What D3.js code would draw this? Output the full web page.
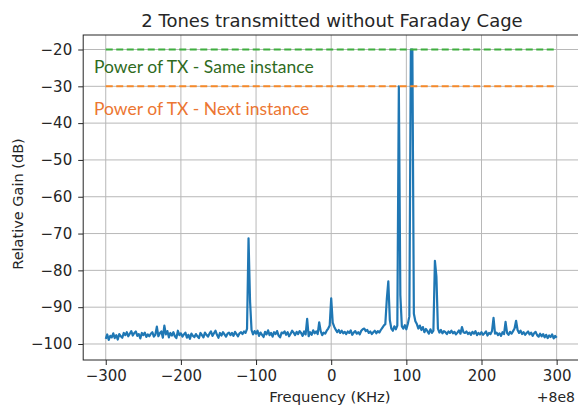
<!DOCTYPE html>
<html>
<head>
<meta charset="utf-8">
<script src="https://cdn.jsdelivr.net/npm/d3@7"></script>
<style>
  html, body { margin: 0; padding: 0; background: #fff; }
  svg { display: block; }
  text { font-family: "DejaVu Sans", sans-serif; fill: #262626; }
</style>
</head>
<body>
<svg id="chart" width="578" height="407"></svg>
<script>
// Spectrum sampled every 2 kHz around the 800 MHz carrier (offset in kHz)
const freqStart = -300;
const freqStep = 2;
const gainDb = [
  -98.6, -97.4, -98.9, -97.8, -98.2, -97.1, -98.4, -97.6, -98.8, -97.3,
  -97.9, -98.3, -97.0, -97.6, -96.8, -97.9, -97.2, -96.5, -97.7, -97.0,
  -96.6, -97.8, -97.3, -98.5, -97.0, -97.6, -96.9, -98.1, -97.4, -97.9,
  -97.2, -96.8, -98.0, -97.5, -95.3, -97.9, -97.1, -96.6, -98.3, -95.0,
  -97.4, -96.5, -98.2, -97.0, -97.7, -96.8, -97.9, -98.4, -96.4, -97.6,
  -97.1, -98.0, -97.4, -96.9, -98.3, -97.5, -98.6, -97.2, -97.8, -98.1,
  -97.3, -97.9, -98.4, -97.0, -97.6, -98.2, -96.9, -97.5, -98.0, -97.2,
  -96.6, -97.8, -97.1, -96.4, -97.5, -98.3, -97.0, -97.7, -96.8, -97.4,
  -98.0, -97.2, -96.9, -97.6, -97.0, -97.8, -96.7, -97.3, -97.9, -97.1,
  -96.8, -97.3, -96.6, -97.0, -95.9, -71.3, -88.3, -96.2, -97.4, -96.5,
  -97.2, -96.4, -97.8, -96.9, -97.5, -98.1, -96.7, -97.4, -96.3, -97.6,
  -97.0, -98.0, -96.8, -97.3, -96.5, -97.7, -98.2, -96.9, -97.1, -96.6,
  -97.5, -96.8, -97.9, -97.2, -96.4, -96.9, -97.6, -96.7, -97.3, -96.5,
  -97.0, -97.8, -96.6, -97.4, -93.2, -97.9, -96.8, -97.5, -96.3, -97.1,
  -96.6, -97.3, -94.1, -96.5, -97.6, -96.9, -97.2, -96.4, -95.8, -95.0,
  -87.6, -94.2, -95.3, -96.1, -96.8, -96.2, -97.0, -96.4, -97.1, -96.7,
  -97.3, -96.6, -97.0, -96.3, -97.5, -96.9, -96.5, -97.2, -96.8, -97.4,
  -96.4, -96.0, -95.8, -96.5, -96.2, -97.0, -96.6, -97.3, -96.8, -96.4,
  -97.1, -96.5, -96.9, -96.2, -95.6, -95.0, -94.6, -87.8, -83.0, -93.5,
  -95.8, -96.4, -95.2, -96.0, -95.0, -30.0, -86.7, -95.2, -95.8, -94.9,
  -96.0, -94.5, -92.5, -20.0, -20.0, -91.8, -93.8, -94.6, -95.8, -95.0,
  -96.2, -95.4, -96.8, -95.9, -96.5, -97.2, -96.0, -97.0, -96.4, -77.4,
  -81.7, -95.8, -96.9, -96.2, -97.1, -96.5, -96.8, -97.3, -96.6, -97.0,
  -96.4, -97.1, -96.7, -97.4, -96.9, -96.3, -97.2, -95.4, -96.8, -97.0,
  -96.6, -97.3, -96.9, -97.5, -96.7, -97.2, -96.5, -97.6, -97.0, -97.4,
  -96.8, -97.5, -97.1, -96.6, -97.7, -97.0, -97.3, -96.5, -92.9, -97.2,
  -96.9, -97.6, -97.1, -97.8, -96.8, -97.3, -94.0, -97.0, -97.5, -96.7,
  -97.2, -96.5, -95.8, -93.7, -96.2, -97.0, -96.4, -97.3, -96.8, -97.5,
  -97.0, -96.6, -97.4, -96.9, -97.8, -97.1, -96.7, -97.6, -98.0, -97.2,
  -97.9, -97.3, -98.2, -97.5, -98.4, -97.7, -98.1, -97.4, -98.5, -97.8,
  -98.3
];

// Reference power levels (dB) drawn as dashed lines across the band
const refLevels = [-20, -30];
const refLabels = ["Power of TX - Same instance", "Power of TX - Next instance"];
const refSpan = [-300, 300];

const xTicks = [-300, -200, -100, 0, 100, 200, 300];
const yTicks = [-100, -90, -80, -70, -60, -50, -40, -30, -20];

const titleText = "2 Tones transmitted without Faraday Cage";
const xLabel = "Frequency (KHz)";
const yLabel = "Relative Gain (dB)";
const offsetText = "+8e8";

const data = gainDb.map((g, i) => ({ f: freqStart + i * freqStep, g }));

const svg = d3.select("#chart");
const plot = { left: 83.2, right: 579.2, top: 35, bottom: 360 };

const x = d3.scaleLinear().domain([-330, 330]).range([plot.left, plot.right]);
const y = d3.scaleLinear().domain([-104.35, -16.06]).range([plot.bottom, plot.top]);

// grid
const grid = svg.append("g").attr("stroke", "#b8b8b8").attr("stroke-width", 1);
grid.selectAll("line.gx").data(xTicks).join("line")
  .attr("x1", d => x(d)).attr("x2", d => x(d))
  .attr("y1", plot.top).attr("y2", plot.bottom);
grid.selectAll("line.gy").data(yTicks).join("line")
  .attr("x1", plot.left).attr("x2", plot.right)
  .attr("y1", d => y(d)).attr("y2", d => y(d));

// spectrum trace
const line = d3.line().x(d => x(d.f)).y(d => y(d.g));
svg.append("path").datum(data)
  .attr("fill", "none")
  .attr("stroke", "#1f77b4")
  .attr("stroke-width", 2.2)
  .attr("stroke-linejoin", "round")
  .attr("d", line);

// dashed reference lines with their captions
const refColors = ["#3fae3f", "#f5892a"];
const textColors = ["#2f6b1e", "#ec7632"];
const captionOffset = [23, 29];
refLevels.forEach((lv, i) => {
  svg.append("line")
    .attr("x1", x(refSpan[0])).attr("x2", x(refSpan[1]))
    .attr("y1", y(lv)).attr("y2", y(lv))
    .attr("stroke", refColors[i])
    .attr("stroke-width", 2)
    .attr("stroke-dasharray", "7,3.5");
});
refLabels.forEach((t, i) => {
  svg.append("text")
    .attr("x", 94)
    .attr("y", y(refLevels[i]) + captionOffset[i])
    .style("font-family", "Lato, 'Open Sans', sans-serif")
    .style("font-size", "17.5px")
    .style("fill", textColors[i])
    .text(t);
});

// axes
const minus = d => d3.format("d")(d).replace("-", "\u2212");
const xAxis = d3.axisBottom(x).tickValues(xTicks).tickSize(5).tickPadding(5).tickFormat(minus);
const yAxis = d3.axisLeft(y).tickValues(yTicks).tickSize(5).tickPadding(6).tickFormat(minus);

const gx = svg.append("g").attr("transform", `translate(0,${plot.bottom})`).call(xAxis);
const gy = svg.append("g").attr("transform", `translate(${plot.left},0)`).call(yAxis);
[gx, gy].forEach(g => {
  g.select(".domain").remove();
  g.selectAll(".tick line").attr("stroke", "#262626");
  g.selectAll(".tick text").style("font-size", "15px").style("font-family", "DejaVu Sans").attr("fill", "#262626");
});

// frame
svg.append("rect")
  .attr("x", plot.left).attr("y", plot.top)
  .attr("width", plot.right - plot.left).attr("height", plot.bottom - plot.top)
  .attr("fill", "none").attr("stroke", "#262626").attr("stroke-width", 1);

// titles and labels
svg.append("text")
  .attr("x", 332).attr("y", 27)
  .attr("text-anchor", "middle").style("font-size", "18px")
  .text(titleText);
svg.append("text")
  .attr("x", 330).attr("y", 402)
  .attr("text-anchor", "middle").style("font-size", "14.8px")
  .text(xLabel);
svg.append("text")
  .attr("transform", `translate(23,204) rotate(-90)`)
  .attr("text-anchor", "middle").style("font-size", "14.5px")
  .text(yLabel);
svg.append("text")
  .attr("x", 575).attr("y", 402)
  .attr("text-anchor", "end").style("font-size", "14px")
  .text(offsetText);
</script>
</body>
</html>
